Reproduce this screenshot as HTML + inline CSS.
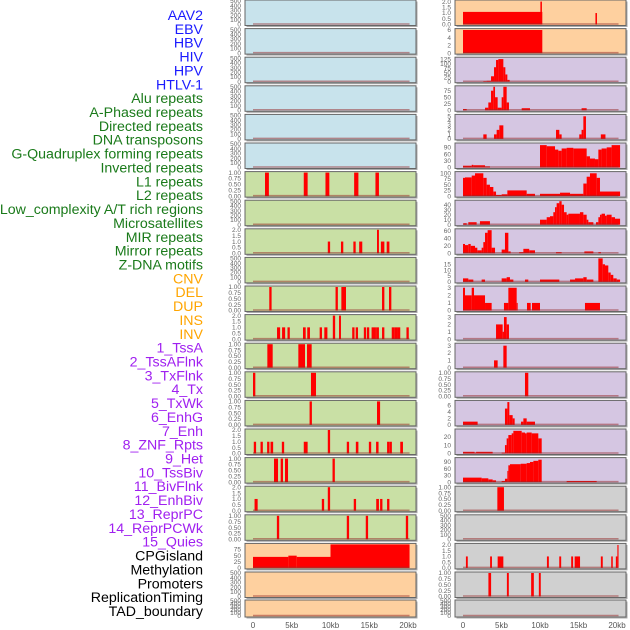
<!DOCTYPE html>
<html><head><meta charset="utf-8">
<style>
html,body{margin:0;padding:0;background:#fff;}
svg{display:block;font-family:"Liberation Sans",sans-serif;}
.lab{font-size:14.2px;text-anchor:end;}
.tk{font-size:6.5px;fill:#666;text-anchor:end;}
.xt{font-size:8px;fill:#555;text-anchor:middle;}
</style></head>
<body>
<svg id="chart" width="630" height="630" viewBox="0 0 630 630" xmlns="http://www.w3.org/2000/svg"></svg>
<script>
// ---- labels ----
const trackLabels = ["AAV2","EBV","HBV","HIV","HPV","HTLV-1","Alu repeats","A-Phased repeats","Directed repeats","DNA transposons","G-Quadruplex forming repeats","Inverted repeats","L1 repeats","L2 repeats","Low_complexity A/T rich regions","Microsatellites","MIR repeats","Mirror repeats","Z-DNA motifs","CNV","DEL","DUP","INS","INV","1_TssA","2_TssAFlnk","3_TxFlnk","4_Tx","5_TxWk","6_EnhG","7_Enh","8_ZNF_Rpts","9_Het","10_TssBiv","11_BivFlnk","12_EnhBiv","13_ReprPC","14_ReprPCWk","15_Quies","CPGisland","Methylation","Promoters","ReplicationTiming","TAD_boundary"];
const labelGroups = [6,13,5,15,5];
const groupColors = ["#1a1aff","#1a7a1a","#ffa500","#a020f0","#000000"];
const xTickLabels = ["0","5kb","10kb","15kb","20kb"];
const xTickValues = [0,5,10,15,20];
// ---- tick sets ----
const tEmpty = ["0","100","200","300","400","500"];
const t1 = ["0.00","0.25","0.50","0.75","1.00"];
const t2 = ["0.0","0.5","1.0","1.5","2.0"];
// ---- left column data: [startKb,endKb,value] ----
const L6 = [[1.55,2.05,1],[6.55,7.05,1],[9.35,9.85,1],[13.05,13.6,1],[15.8,16.25,1]];
const L8 = [[9.65,9.95,1],[11.35,11.65,1],[12.95,13.25,1],[13.7,14.1,1],[16.0,16.25,2],[16.5,16.95,1],[17.25,17.6,1]];
const L10 = [[2.1,2.4,1],[10.65,10.95,1],[11.4,12.0,1],[16.65,16.95,1],[17.55,17.85,1]];
const L11 = [[3.1,3.5,1],[3.75,4.15,1],[4.45,4.75,1],[6.45,6.8,1],[7.0,7.35,1],[8.6,8.9,1],[9.2,9.6,1],[10.3,10.6,2],[11.1,11.35,2],[12.8,13.1,1],[13.25,13.55,1],[14.3,14.6,1],[14.7,15.0,1],[15.3,15.75,1],[15.75,15.95,1],[15.95,16.25,1],[16.65,16.95,1],[17.9,18.3,1],[18.3,18.65,1],[18.65,19.0,1],[19.8,20.1,1]];
const L12 = [[1.85,2.54,1],[5.85,6.71,1],[6.97,7.57,1]];
const L13 = [[0.0,0.3,1],[7.48,8.13,1]];
const L14 = [[7.3,7.6,1],[16.0,16.4,1]];
const L15 = [[0.1,0.4,1],[0.97,1.27,1],[1.82,2.12,1],[2.26,2.6,1],[3.72,4.02,1],[6.55,7.05,1],[9.65,9.95,2],[12.1,12.4,1],[13.27,13.6,1],[14.95,15.25,1],[15.88,16.2,1],[17.3,17.6,1],[17.62,17.92,1],[19.0,19.35,1]];
const L16 = [[2.71,3.23,1],[3.57,3.87,1],[4.13,4.52,1],[10.26,10.56,1]];
const L17 = [[0.2,0.6,1],[8.88,9.18,1],[9.65,9.95,2],[13.0,13.3,1],[15.9,16.25,1],[16.4,16.7,1],[17.3,17.6,1]];
const L18 = [[3.08,3.38,1],[12.1,12.4,1],[14.55,14.85,1],[19.72,20.02,1]];
const L19 = [[0,4.56,45],[4.56,5.64,50],[5.64,10.0,45],[10.0,20.2,96]];
// ---- right column data ----
const R0 = [[0,10.3,1.1],[10.05,10.25,2],[17.2,17.4,1]];
const R1 = [[0,10.3,6]];
const R2 = [[2.64,3.07,3],[3.07,3.64,5],[3.64,4.03,30],[4.03,4.29,80],[4.29,4.59,120],[4.59,5.24,125],[5.24,5.5,80],[5.5,5.76,40],[5.76,6.06,10]];
const R3 = [[0,0.48,5],[2.86,3.29,10],[3.29,3.64,30],[3.64,3.94,75],[3.94,4.16,90],[4.16,4.5,50],[4.5,5.02,10],[5.02,5.24,50],[5.24,5.67,90],[5.67,5.97,30],[7.62,8.7,8],[15.4,16.06,8]];
const R4 = [[2.64,3.07,1],[4.03,4.37,1],[4.37,4.72,2],[4.72,5.24,3],[12.08,12.51,2],[12.51,12.81,1],[15.1,15.4,1],[15.4,15.63,2],[15.63,15.97,5],[17.9,18.5,1]];
const R5 = [[0,1.13,8],[1.13,1.34,12],[1.34,2.86,10],[2.86,3.5,5],[10,10.87,100],[10.87,11.95,95],[11.95,12.38,80],[12.38,12.81,75],[12.81,13.46,85],[13.46,14.33,88],[14.33,16.06,85],[16.06,16.49,50],[16.49,17.14,40],[17.14,17.58,37],[17.58,18,80],[18,18.66,85],[18.66,19.3,90],[19.3,20.4,100]];
const R6 = [[0,0.26,80],[0.26,1.13,82],[1.13,1.56,90],[1.56,2.64,100],[2.64,3.07,80],[3.07,3.5,50],[3.5,3.94,40],[3.94,4.29,20],[4.29,5.02,5],[5.02,5.76,8],[5.76,8.27,25],[8.27,9.35,10],[10,12.6,10],[12.6,13.9,15],[13.9,15.63,10],[15.63,16.06,55],[16.06,16.49,85],[16.49,17.36,100],[17.36,17.79,80],[17.79,20.4,20]];
const R7 = [[0.04,0.48,3],[0.69,1.77,5],[2.2,3.5,7],[10,10.87,10],[10.87,11.3,15],[11.3,11.73,17],[11.73,11.95,25],[11.95,12.16,35],[12.16,12.51,43],[12.51,12.81,47],[12.81,13.12,40],[13.12,13.46,25],[13.46,13.68,20],[13.68,15.19,22],[15.19,15.63,25],[15.63,16.06,20],[16.06,16.28,10],[16.28,16.93,5],[17.27,17.58,5],[17.58,17.79,15],[17.79,18.0,20],[18.0,18.44,22],[18.44,18.66,18],[18.66,19.3,20],[19.3,19.74,15],[19.74,20.4,12]];
const R8 = [[0,0.26,25],[0.26,0.69,22],[0.69,1.0,25],[1.0,1.56,20],[1.56,1.86,15],[1.86,2.42,8],[2.42,2.64,15],[2.64,2.86,30],[2.86,3.2,55],[3.2,3.72,62],[3.72,4.16,15],[5.02,5.45,10],[5.45,5.89,55],[5.89,6.19,5],[7.3,7.84,3],[7.84,8.6,12],[8.6,9.35,8],[12.08,12.81,3],[15.76,16.93,5],[17.58,17.92,3]];
const R9 = [[0,0.69,3],[0.69,1.34,2],[2.42,2.86,2],[5.02,5.67,3],[5.67,6.1,4],[6.1,6.54,2],[8.05,8.48,2],[10,12.51,2],[13.9,14.55,2],[14.55,15.63,3],[15.63,16.06,4],[16.06,16.93,2],[17.58,18.14,20],[18.14,18.44,15],[18.44,18.87,14],[18.87,19.18,8],[19.18,19.52,6],[19.52,19.96,3],[19.96,20.4,2]];
const R10 = [[0,0.26,3],[0.26,1.13,2],[1.13,1.43,3],[1.43,2.86,2],[2.86,3.72,1],[5.32,5.89,1],[5.89,6.97,3],[6.97,7.1,1],[8.31,8.79,1],[8.96,10,1],[15.84,17.79,1]];
const R11 = [[4.29,5.15,2],[5.15,5.32,1],[5.32,5.67,3],[5.67,5.97,2]];
const R12 = [[4.03,4.5,1],[5.24,5.67,3]];
const R13 = [[8.05,8.48,1]];
const R14 = [[0,1.9,1],[5.45,5.76,5],[5.76,6.02,7],[6.02,6.45,3],[6.45,6.71,2],[7.53,7.84,1],[7.84,8.27,2],[8.27,9.35,1]];
const R15 = [[0,1.5,2],[1.5,1.7,1],[1.7,3.85,2],[5.02,5.45,1],[5.45,5.67,10],[5.67,5.89,18],[5.89,6.32,22],[6.32,6.54,24],[6.54,7.62,27],[7.62,8.05,25],[8.05,8.27,24],[8.27,8.92,25],[8.92,9.78,24],[9.78,10.22,18]];
const R16 = [[0,2.42,20],[2.42,3.29,17],[3.29,3.85,12],[3.85,4.29,8],[5.02,5.45,5],[5.45,5.76,15],[5.76,5.89,50],[5.89,6.1,75],[6.1,7.49,80],[7.49,8.27,82],[8.27,8.7,85],[8.7,9.14,90],[9.14,9.78,95],[9.78,10.22,100],[13.46,17.36,5]];
const R17 = [[4.46,5.32,1]];
const R19 = [[0.38,0.62,1],[3.52,3.76,1],[4.5,5.24,1],[10.9,11.15,1],[12.5,12.75,1],[14.05,14.3,1],[14.5,15.2,1],[17.9,18.15,1],[19.25,19.45,1],[19.85,20.05,1],[20.05,20.2,2]];
const R20 = [[3.3,3.65,1],[5.7,5.95,1],[8.85,9.2,1],[9.85,10.1,1]];

const BLUE="#c8e3ec", GREEN="#c9e0a5", ORANGE="#fed09f", PURPLE="#d5c6e2", GREY="#d0d0d0";
const leftPanels = [
 [BLUE,500,tEmpty,[],"aav2"],[BLUE,500,tEmpty,[],"ebv"],[BLUE,500,tEmpty,[],"hbv"],[BLUE,500,tEmpty,[],"hiv"],[BLUE,500,tEmpty,[],"hpv"],[BLUE,500,tEmpty,[],"htlv"],
 [GREEN,1,t1,L6,"g6"],[GREEN,500,tEmpty,[],"g7"],[GREEN,2,t2,L8,"g8"],[GREEN,500,tEmpty,[],"g9"],[GREEN,1,t1,L10,"g10"],[GREEN,2,t2,L11,"g11"],[GREEN,1,t1,L12,"g12"],[GREEN,1,t1,L13,"g13"],[GREEN,1,t1,L14,"g14"],[GREEN,2,t2,L15,"g15"],[GREEN,1,t1,L16,"g16"],[GREEN,2,t2,L17,"g17"],[GREEN,1,t1,L18,"g18"],
 [ORANGE,96,["0","25","50","75"],L19,"cpg"],[ORANGE,500,tEmpty,[],"o20"],[ORANGE,500,tEmpty,[],"o21"]];
const rightPanels = [
 [ORANGE,2.05,t2,R0,"r0"],[ORANGE,6.1,["0","2","4","6"],R1,"r1"],
 [PURPLE,130,["0","25","50","75","100","125"],R2,"r2"],[PURPLE,90,["0","25","50","75"],R3,"r3"],[PURPLE,5.2,["0","1","2","3","4","5"],R4,"r4"],[PURPLE,105,["0","30","60","90"],R5,"r5"],[PURPLE,103,["0","25","50","75","100"],R6,"r6"],
 [PURPLE,47,["0","10","20","30","40"],R7,"r7"],[PURPLE,63,["0","20","40","60"],R8,"r8"],[PURPLE,20,["0","5","10","15"],R9,"r9"],[PURPLE,3.1,["0","1","2","3"],R10,"r10"],[PURPLE,3.2,["0","1","2","3"],R11,"r11"],[PURPLE,3.2,["0","1","2","3"],R12,"r12"],[PURPLE,1,t1,R13,"r13"],[PURPLE,7.2,["0","2","4","6"],R14,"r14"],[PURPLE,28,["0","10","20"],R15,"r15"],[PURPLE,105,["0","30","60","90"],R16,"r16"],
 [GREY,1,t1,R17,"r17"],[GREY,500,tEmpty,[],"r18"],[GREY,2.05,t2,R19,"r19"],[GREY,1,t1,R20,"r20"],[GREY,500,tEmpty,[],"r21"]];

const NS="http://www.w3.org/2000/svg";
const svg=document.getElementById('chart');
function mk(tag,attrs,parent){const e=document.createElementNS(NS,tag);for(const k in attrs)e.setAttribute(k,attrs[k]);(parent||svg).appendChild(e);return e;}

let gi=0,cnt=0;
trackLabels.forEach((t,i)=>{
  while(cnt>=labelGroups[gi]){cnt=0;gi++;}
  cnt++;
  const el=mk('text',{x:203,y:15+i*13.86+5,class:'lab',fill:groupColors[gi]});
  el.textContent=t;
  
  
});

function rowTop(r){return r<21?r*28.6:600;}
function rowH(r){return r<21?25.5:17;}

function drawCol(panels,px0,px1,x0,x20){
  const xs=kb=>x0+(x20-x0)*kb/20;
  panels.forEach((p,r)=>{
    const [bg,ymax,ticks,segs,nm]=p;
    const top=rowTop(r),h=rowH(r),bot=top+h;
    const g=mk('g',{});
    
    
    const sh=mk('rect',{x:px0+1.5,y:top+1.5,width:px1-px0,height:h,fill:'#aaa'},g);
    
    
    const bgr=mk('rect',{x:px0,y:top,width:px1-px0,height:h,fill:bg,stroke:'#666','stroke-width':1},g);
    
    
    const ys=v=>bot-1-(h-2)*Math.min(v,ymax)/ymax;
    segs.forEach(s=>{
      const b=mk('rect',{x:xs(s[0]),y:ys(s[2]),width:Math.max(0.8,xs(s[1])-xs(s[0])),height:bot-1-ys(s[2]),fill:'#ff0000'},g);
      
      
    });
    const bl=mk('line',{x1:xs(0),x2:xs(20.2),y1:bot-1.5,y2:bot-1.5,stroke:'rgba(150,40,40,0.5)','stroke-width':1.5},g);
    
    
    ticks.forEach(t=>{
      const v=parseFloat(t);
      const tt=mk('text',{x:px0-4,y:ys(v)+2.2,class:'tk'},g);
      tt.textContent=t;
      
      
    });
  });
  xTickValues.forEach((v,i)=>{
    const t=mk('text',{x:xs(v),y:628,class:'xt'});
    t.textContent=xTickLabels[i];
    
    
  });
}
drawCol(leftPanels,245,416,253,408);
drawCol(rightPanels,455,626,463,617);
</script>
</body></html>
